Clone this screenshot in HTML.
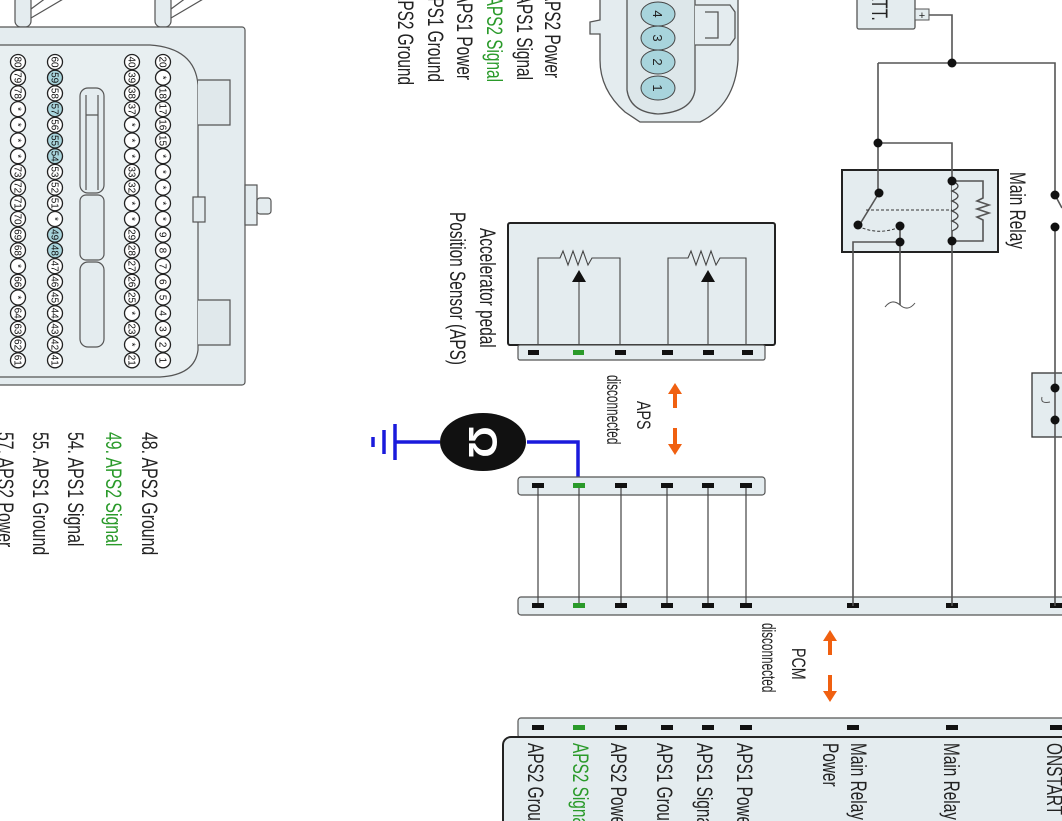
<!DOCTYPE html>
<html><head><meta charset="utf-8"><style>
html,body{margin:0;padding:0;background:#fff;width:1062px;height:821px;overflow:hidden}
svg{display:block}
text{font-family:"Liberation Sans",sans-serif}
.pt circle{fill:#fff;stroke:#222;stroke-width:1.3}
.pt text{font-size:10px;text-anchor:middle;fill:#111}
.pt circle.h{fill:#a8d4dc}
.w{stroke:#555;stroke-width:1.6;fill:none}
.lb{font-size:22px;fill:#222}
.g{fill:#2a9a2a}
</style></head><body>
<svg width="1062" height="821" viewBox="0 0 1062 821" xmlns="http://www.w3.org/2000/svg">
<!-- Big PCM connector -->
<g stroke="#555" stroke-width="1.2" fill="#e4ecef">
  <rect x="15" y="-5" width="16" height="32" rx="6"/>
  <rect x="155" y="-5" width="16" height="32" rx="6"/>
  <path d="M31 18 L70 -5 M31 9 L50 -5 M171 18 L210 -5 M171 9 L190 -5" fill="none"/>
  <rect x="-5" y="27" width="250" height="358" rx="3"/>
  <path d="M-5 45 L150 45 Q195 48 198 85 L198 350 Q195 375 160 377 L-5 377" fill="#e8eff1"/>
  <path d="M198 80 L230 80 L230 125 L198 125 M198 300 L230 300 L230 345 L198 345" fill="#e0e8eb"/>
  <rect x="193" y="197" width="12" height="25"/>
  <rect x="245" y="185" width="12" height="40"/>
  <rect x="257" y="198" width="14" height="16" rx="3"/>
  <rect x="80" y="88" width="24" height="105" rx="8"/>
  <rect x="80" y="195" width="24" height="65" rx="6"/>
  <rect x="80" y="262" width="24" height="85" rx="8"/>
  <path d="M86 95 L86 190 M98 95 L98 190 M86 115 L98 115" fill="none"/>
</g>
<g class="pt" transform="translate(163,0) rotate(90)">
<circle cx="62" cy="0" r="7.5"/><text x="62" y="3.5">20</text>
<circle cx="77.7" cy="0" r="7.5"/><text x="77.7" y="3.5">*</text>
<circle cx="93.4" cy="0" r="7.5"/><text x="93.4" y="3.5">18</text>
<circle cx="109.1" cy="0" r="7.5"/><text x="109.1" y="3.5">17</text>
<circle cx="124.8" cy="0" r="7.5"/><text x="124.8" y="3.5">16</text>
<circle cx="140.5" cy="0" r="7.5"/><text x="140.5" y="3.5">15</text>
<circle cx="156.2" cy="0" r="7.5"/><text x="156.2" y="3.5">*</text>
<circle cx="171.9" cy="0" r="7.5"/><text x="171.9" y="3.5">*</text>
<circle cx="187.6" cy="0" r="7.5"/><text x="187.6" y="3.5">*</text>
<circle cx="203.3" cy="0" r="7.5"/><text x="203.3" y="3.5">*</text>
<circle cx="219" cy="0" r="7.5"/><text x="219" y="3.5">*</text>
<circle cx="234.7" cy="0" r="7.5"/><text x="234.7" y="3.5">9</text>
<circle cx="250.4" cy="0" r="7.5"/><text x="250.4" y="3.5">8</text>
<circle cx="266.1" cy="0" r="7.5"/><text x="266.1" y="3.5">7</text>
<circle cx="281.8" cy="0" r="7.5"/><text x="281.8" y="3.5">6</text>
<circle cx="297.5" cy="0" r="7.5"/><text x="297.5" y="3.5">5</text>
<circle cx="313.2" cy="0" r="7.5"/><text x="313.2" y="3.5">4</text>
<circle cx="328.9" cy="0" r="7.5"/><text x="328.9" y="3.5">3</text>
<circle cx="344.6" cy="0" r="7.5"/><text x="344.6" y="3.5">2</text>
<circle cx="360.3" cy="0" r="7.5"/><text x="360.3" y="3.5">1</text>
</g>
<g class="pt" transform="translate(132,0) rotate(90)">
<circle cx="62" cy="0" r="7.5"/><text x="62" y="3.5">40</text>
<circle cx="77.7" cy="0" r="7.5"/><text x="77.7" y="3.5">39</text>
<circle cx="93.4" cy="0" r="7.5"/><text x="93.4" y="3.5">38</text>
<circle cx="109.1" cy="0" r="7.5"/><text x="109.1" y="3.5">37</text>
<circle cx="124.8" cy="0" r="7.5"/><text x="124.8" y="3.5">*</text>
<circle cx="140.5" cy="0" r="7.5"/><text x="140.5" y="3.5">*</text>
<circle cx="156.2" cy="0" r="7.5"/><text x="156.2" y="3.5">*</text>
<circle cx="171.9" cy="0" r="7.5"/><text x="171.9" y="3.5">33</text>
<circle cx="187.6" cy="0" r="7.5"/><text x="187.6" y="3.5">32</text>
<circle cx="203.3" cy="0" r="7.5"/><text x="203.3" y="3.5">*</text>
<circle cx="219" cy="0" r="7.5"/><text x="219" y="3.5">*</text>
<circle cx="234.7" cy="0" r="7.5"/><text x="234.7" y="3.5">29</text>
<circle cx="250.4" cy="0" r="7.5"/><text x="250.4" y="3.5">28</text>
<circle cx="266.1" cy="0" r="7.5"/><text x="266.1" y="3.5">27</text>
<circle cx="281.8" cy="0" r="7.5"/><text x="281.8" y="3.5">26</text>
<circle cx="297.5" cy="0" r="7.5"/><text x="297.5" y="3.5">25</text>
<circle cx="313.2" cy="0" r="7.5"/><text x="313.2" y="3.5">*</text>
<circle cx="328.9" cy="0" r="7.5"/><text x="328.9" y="3.5">23</text>
<circle cx="344.6" cy="0" r="7.5"/><text x="344.6" y="3.5">*</text>
<circle cx="360.3" cy="0" r="7.5"/><text x="360.3" y="3.5">21</text>
</g>
<g class="pt" transform="translate(55,0) rotate(90)">
<circle cx="62" cy="0" r="7.5"/><text x="62" y="3.5">60</text>
<circle class="h" cx="77.7" cy="0" r="7.5"/><text x="77.7" y="3.5">59</text>
<circle cx="93.4" cy="0" r="7.5"/><text x="93.4" y="3.5">58</text>
<circle class="h" cx="109.1" cy="0" r="7.5"/><text x="109.1" y="3.5">57</text>
<circle cx="124.8" cy="0" r="7.5"/><text x="124.8" y="3.5">56</text>
<circle class="h" cx="140.5" cy="0" r="7.5"/><text x="140.5" y="3.5">55</text>
<circle class="h" cx="156.2" cy="0" r="7.5"/><text x="156.2" y="3.5">54</text>
<circle cx="171.9" cy="0" r="7.5"/><text x="171.9" y="3.5">53</text>
<circle cx="187.6" cy="0" r="7.5"/><text x="187.6" y="3.5">52</text>
<circle cx="203.3" cy="0" r="7.5"/><text x="203.3" y="3.5">51</text>
<circle cx="219" cy="0" r="7.5"/><text x="219" y="3.5">*</text>
<circle class="h" cx="234.7" cy="0" r="7.5"/><text x="234.7" y="3.5">49</text>
<circle class="h" cx="250.4" cy="0" r="7.5"/><text x="250.4" y="3.5">48</text>
<circle cx="266.1" cy="0" r="7.5"/><text x="266.1" y="3.5">47</text>
<circle cx="281.8" cy="0" r="7.5"/><text x="281.8" y="3.5">46</text>
<circle cx="297.5" cy="0" r="7.5"/><text x="297.5" y="3.5">45</text>
<circle cx="313.2" cy="0" r="7.5"/><text x="313.2" y="3.5">44</text>
<circle cx="328.9" cy="0" r="7.5"/><text x="328.9" y="3.5">43</text>
<circle cx="344.6" cy="0" r="7.5"/><text x="344.6" y="3.5">42</text>
<circle cx="360.3" cy="0" r="7.5"/><text x="360.3" y="3.5">41</text>
</g>
<g class="pt" transform="translate(18,0) rotate(90)">
<circle cx="62" cy="0" r="7.5"/><text x="62" y="3.5">80</text>
<circle cx="77.7" cy="0" r="7.5"/><text x="77.7" y="3.5">79</text>
<circle cx="93.4" cy="0" r="7.5"/><text x="93.4" y="3.5">78</text>
<circle cx="109.1" cy="0" r="7.5"/><text x="109.1" y="3.5">*</text>
<circle cx="124.8" cy="0" r="7.5"/><text x="124.8" y="3.5">*</text>
<circle cx="140.5" cy="0" r="7.5"/><text x="140.5" y="3.5">*</text>
<circle cx="156.2" cy="0" r="7.5"/><text x="156.2" y="3.5">*</text>
<circle cx="171.9" cy="0" r="7.5"/><text x="171.9" y="3.5">73</text>
<circle cx="187.6" cy="0" r="7.5"/><text x="187.6" y="3.5">72</text>
<circle cx="203.3" cy="0" r="7.5"/><text x="203.3" y="3.5">71</text>
<circle cx="219" cy="0" r="7.5"/><text x="219" y="3.5">70</text>
<circle cx="234.7" cy="0" r="7.5"/><text x="234.7" y="3.5">69</text>
<circle cx="250.4" cy="0" r="7.5"/><text x="250.4" y="3.5">68</text>
<circle cx="266.1" cy="0" r="7.5"/><text x="266.1" y="3.5">*</text>
<circle cx="281.8" cy="0" r="7.5"/><text x="281.8" y="3.5">66</text>
<circle cx="297.5" cy="0" r="7.5"/><text x="297.5" y="3.5">*</text>
<circle cx="313.2" cy="0" r="7.5"/><text x="313.2" y="3.5">64</text>
<circle cx="328.9" cy="0" r="7.5"/><text x="328.9" y="3.5">63</text>
<circle cx="344.6" cy="0" r="7.5"/><text x="344.6" y="3.5">62</text>
<circle cx="360.3" cy="0" r="7.5"/><text x="360.3" y="3.5">61</text>
</g>

<!-- PCM pin labels -->
<text class="lb" transform="translate(142,432) rotate(90) scale(0.72,1)">48. APS2 Ground</text>
<text class="lb g" transform="translate(106,432) rotate(90) scale(0.72,1)">49. APS2 Signal</text>
<text class="lb" transform="translate(68,432) rotate(90) scale(0.72,1)">54. APS1 Signal</text>
<text class="lb" transform="translate(33,432) rotate(90) scale(0.72,1)">55. APS1 Ground</text>
<text class="lb" transform="translate(-2,432) rotate(90) scale(0.72,1)">57. APS2 Power</text>

<!-- APS pin labels (top) -->
<g text-anchor="end">
<text class="lb" transform="translate(545,78) rotate(90) scale(0.7,1)">APS2 Power</text>
<text class="lb" transform="translate(517,80) rotate(90) scale(0.7,1)">APS1 Signal</text>
<text class="lb g" transform="translate(487,82) rotate(90) scale(0.7,1)">APS2 Signal</text>
<text class="lb" transform="translate(457,80) rotate(90) scale(0.7,1)">APS1 Power</text>
<text class="lb" transform="translate(428,82) rotate(90) scale(0.7,1)">APS1 Ground</text>
<text class="lb" transform="translate(398,85) rotate(90) scale(0.7,1)">APS2 Ground</text>
</g>

<!-- APS connector face -->
<g stroke="#555" stroke-width="1.3">
  <path d="M600 -5 L600 20 L590 22 L590 34 L600 34 L600 60 Q600 90 625 112 L640 122 L700 122 Q735 105 738 60 L738 -5" fill="#e4ecef"/>
  <path d="M627 -5 L627 90 Q630 112 658 114 Q692 112 695 90 L695 -5" fill="#dde7ea"/>
  <path d="M695 5 L730 5 L735 12 L735 38 L730 45 L695 45" fill="#e4ecef"/>
  <path d="M705 12 L718 12 L718 38 L705 38" fill="none"/>
</g>
<g stroke="#444" stroke-width="1" fill="#a8d4dc">
  <ellipse cx="658" cy="14" rx="17" ry="12"/>
  <ellipse cx="658" cy="38" rx="17" ry="12"/>
  <ellipse cx="658" cy="62" rx="17" ry="12"/>
  <ellipse cx="658" cy="88" rx="17" ry="12"/>
</g>
<g font-size="13" fill="#222" text-anchor="middle">
  <text transform="translate(653,14) rotate(90)">4</text>
  <text transform="translate(653,38) rotate(90)">3</text>
  <text transform="translate(653,62) rotate(90)">2</text>
  <text transform="translate(653,88) rotate(90)">1</text>
</g>

<!-- APS sensor box -->
<rect x="508" y="223" width="267" height="122" rx="2" fill="#e4ecef" stroke="#222" stroke-width="2"/>
<rect x="518" y="345" width="247" height="15" rx="2" fill="#e4ecef" stroke="#555" stroke-width="1.2"/>
<g stroke="#444" stroke-width="1.1" fill="none">
  <path d="M538 345 L538 258 L560 258 L563 251 L568 265 L573 251 L578 265 L583 251 L588 265 L592 258 L620 258 L620 345"/>
  <path d="M579 345 L579 280"/>
  <path d="M668 345 L668 258 L688 258 L691 251 L696 265 L701 251 L706 265 L711 251 L716 265 L720 258 L746 258 L746 345"/>
  <path d="M708 345 L708 280"/>
</g>
<path d="M579 270 L572 282 L586 282 Z M708 270 L701 282 L715 282 Z" fill="#111"/>
<text class="lb" transform="translate(480,228) rotate(90) scale(0.7,1)">Accelerator pedal</text>
<text class="lb" transform="translate(450,212) rotate(90) scale(0.7,1)">Position Sensor (APS)</text>
<g fill="#111">
  <rect x="528" y="350" width="11" height="5"/><rect x="573" y="350" width="11" height="5" fill="#2a9a2a"/>
  <rect x="615" y="350" width="11" height="5"/><rect x="662" y="350" width="11" height="5"/>
  <rect x="703" y="350" width="11" height="5"/><rect x="742" y="350" width="11" height="5"/>
</g>

<!-- disconnected arrows -->
<g fill="#f06010">
  <path d="M675 383 L668 394 L673 394 L673 408 L677 408 L677 394 L682 394 Z"/>
  <path d="M675 455 L668 444 L673 444 L673 428 L677 428 L677 444 L682 444 Z"/>
  <path d="M830 630 L823 641 L828 641 L828 655 L832 655 L832 641 L837 641 Z"/>
  <path d="M830 702 L823 691 L828 691 L828 675 L832 675 L832 691 L837 691 Z"/>
</g>
<g font-size="19" fill="#222">
  <text transform="translate(637,401) rotate(90) scale(0.75,1)">APS</text>
  <text transform="translate(607,375) rotate(90) scale(0.62,1)">disconnected</text>
  <text transform="translate(792,648) rotate(90) scale(0.75,1)">PCM</text>
  <text transform="translate(762,623) rotate(90) scale(0.62,1)">disconnected</text>
</g>

<!-- Ohmmeter -->
<g stroke="#1a1adc" stroke-width="3.5" fill="none">
  <path d="M527 442 L578 442 L578 486"/>
  <path d="M440 442 L395 442"/>
  <path d="M395 424 L395 460 M384 430 L384 454 M373 437 L373 447"/>
</g>
<ellipse cx="483" cy="442" rx="43" ry="29" fill="#111"/>
<text transform="translate(469,442) rotate(90)" font-size="40" font-weight="bold" fill="#fff" text-anchor="middle">Ω</text>

<!-- middle connectors -->
<rect x="518" y="477" width="247" height="18" rx="3" fill="#e4ecef" stroke="#555" stroke-width="1.2"/>
<rect x="518" y="597" width="560" height="18" rx="3" fill="#e4ecef" stroke="#555" stroke-width="1.2"/>
<g class="w" style="stroke:#444;stroke-width:1.2">
  <path d="M538 486 L538 606 M621 486 L621 606 M667 486 L667 606 M708 486 L708 606 M746 486 L746 606"/>
</g>
<path d="M579 486 L579 606" stroke="#444" stroke-width="1.2"/>
<g fill="#111">
  <rect x="532" y="483" width="12" height="5"/><rect x="573" y="483" width="12" height="5" fill="#2a9a2a"/>
  <rect x="615" y="483" width="12" height="5"/><rect x="661" y="483" width="12" height="5"/>
  <rect x="702" y="483" width="12" height="5"/><rect x="740" y="483" width="12" height="5"/>
  <rect x="532" y="603" width="12" height="5"/><rect x="573" y="603" width="12" height="5" fill="#2a9a2a"/>
  <rect x="615" y="603" width="12" height="5"/><rect x="661" y="603" width="12" height="5"/>
  <rect x="702" y="603" width="12" height="5"/><rect x="740" y="603" width="12" height="5"/>
  <rect x="847" y="603" width="12" height="5"/><rect x="946" y="603" width="12" height="5"/>
  <rect x="1050" y="603" width="12" height="5"/>
</g>

<!-- PCM connector -->
<rect x="518" y="718" width="560" height="20" rx="3" fill="#e4ecef" stroke="#555" stroke-width="1.2"/>
<rect x="503" y="737" width="580" height="100" rx="8" fill="#e4ecef" stroke="#222" stroke-width="2"/>
<g fill="#111">
  <rect x="532" y="725" width="12" height="5"/><rect x="573" y="725" width="12" height="5" fill="#2a9a2a"/>
  <rect x="615" y="725" width="12" height="5"/><rect x="661" y="725" width="12" height="5"/>
  <rect x="702" y="725" width="12" height="5"/><rect x="740" y="725" width="12" height="5"/>
  <rect x="847" y="725" width="12" height="5"/><rect x="946" y="725" width="12" height="5"/>
  <rect x="1050" y="725" width="12" height="5"/>
</g>
<text class="lb" transform="translate(528,743) rotate(90) scale(0.7,1)">APS2 Ground</text>
<text class="lb g" transform="translate(573,743) rotate(90) scale(0.7,1)">APS2 Signal</text>
<text class="lb" transform="translate(611,743) rotate(90) scale(0.7,1)">APS2 Power</text>
<text class="lb" transform="translate(657,743) rotate(90) scale(0.7,1)">APS1 Ground</text>
<text class="lb" transform="translate(697,743) rotate(90) scale(0.7,1)">APS1 Signal</text>
<text class="lb" transform="translate(737,743) rotate(90) scale(0.7,1)">APS1 Power</text>
<text class="lb" transform="translate(851,743) rotate(90) scale(0.7,1)">Main Relay</text>
<text class="lb" transform="translate(823,743) rotate(90) scale(0.7,1)">Power</text>
<text class="lb" transform="translate(944,743) rotate(90) scale(0.7,1)">Main Relay</text>
<text class="lb" transform="translate(1047,743) rotate(90) scale(0.7,1)">ONSTART</text>

<!-- Battery & relay -->
<rect x="857" y="-5" width="58" height="34" rx="2" fill="#e4ecef" stroke="#555" stroke-width="1.3"/>
<text class="lb" transform="translate(872,-20) rotate(90) scale(0.7,1)">BATT.</text>
<rect x="915" y="9" width="14" height="11" fill="#e4ecef" stroke="#555" stroke-width="1"/>
<text x="922" y="19" font-size="11" text-anchor="middle" fill="#222">+</text>
<rect x="842" y="170" width="156" height="82" fill="#e4ecef" stroke="#222" stroke-width="2"/>
<text class="lb" transform="translate(1010,172) rotate(90) scale(0.7,1)">Main Relay</text>
<rect x="1032" y="373" width="40" height="64" fill="#e4ecef" stroke="#333" stroke-width="1.3"/>
<g class="w">
  <path d="M929 15 L952 15 L952 63"/>
  <path d="M878 63 L1055 63 L1055 195"/>
  <path d="M1055 227 L1055 606"/>
  <path d="M1055 195 L1062 208"/>
  <path d="M878 63 L878 193"/>
  <path d="M878 143 L952 143 L952 606"/>
  <path d="M952 181 L983 181 L983 198 L977 201 L989 205 L977 209 L989 213 L977 217 L983 220 L983 241 L952 241"/>
  <path d="M879 193 L860 224"/>
  <path d="M900 226 L900 305"/>
  <path d="M900 242 L853 242 L853 606"/>
  <path d="M885 307 Q892 298 900 305 Q908 312 915 303" style="stroke-width:1"/>
  <path d="M1050 402 Q1040 404 1042 397" style="stroke-width:1"/>
</g>
<path d="M952 181 q12 5 0 10 q12 5 0 10 q12 5 0 10 q12 5 0 10 q12 5 0 10" fill="#e4ecef" stroke="#444" stroke-width="1.3"/>
<path d="M866 210 L952 210" stroke="#333" stroke-width="1" stroke-dasharray="3,2"/>
<path d="M858 226 Q878 236 900 227" stroke="#333" stroke-width="1" stroke-dasharray="3,2" fill="none"/>
<g fill="#111">
  <circle cx="952" cy="63" r="4.5"/><circle cx="878" cy="143" r="4.5"/>
  <circle cx="879" cy="193" r="4.5"/><circle cx="858" cy="225" r="4.5"/>
  <circle cx="900" cy="226" r="4.5"/><circle cx="900" cy="242" r="4.5"/>
  <circle cx="952" cy="181" r="4.5"/><circle cx="952" cy="241" r="4.5"/>
  <circle cx="1055" cy="195" r="4.5"/><circle cx="1055" cy="227" r="4.5"/>
  <circle cx="1055" cy="388" r="4.5"/><circle cx="1055" cy="420" r="4.5"/>
</g>
</svg>
</body></html>
